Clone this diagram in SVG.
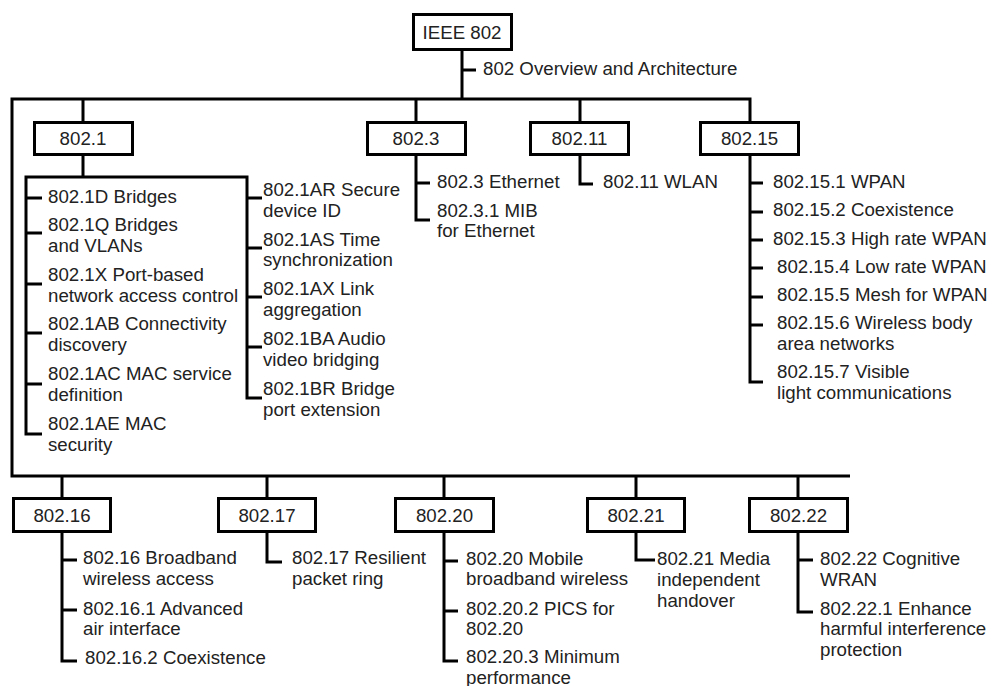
<svg xmlns="http://www.w3.org/2000/svg" width="992" height="686" viewBox="0 0 992 686">
<style>
.bx{fill:#fff;stroke:#000;stroke-width:3}
.c{fill:none;stroke:#000;stroke-width:3;stroke-linejoin:miter}
text{font-family:"Liberation Sans",Arial,sans-serif;font-size:18.7px;fill:#222}
.m{text-anchor:middle}
</style>
<rect width="992" height="686" fill="#fff"/>
<g id="connectors">
<path class="c" d="M462,51V99M462,70H476M750,121V99H12V476H850M83,99V121M416,99V121M580,99V121"/>
<path class="c" d="M83,156V177M42,434H26V177H247V398H262M26,198H42M26,233H42M26,284H42M26,333H42M26,384H42M247,198H262M247,248H262M247,297H262M247,347H262"/>
<path class="c" d="M416,156V220H430M416,183H430M580,156V184H593"/>
<path class="c" d="M750,156V382H763M750,183H763M750,212H763M750,240H763M750,268H763M750,297H763M750,325H763"/>
<path class="c" d="M62,476V497M267,476V497M444,476V497M636,476V497M798,476V497"/>
<path class="c" d="M62,533V661H77M62,560H77M62,610H77M267,533V562H282M444,533V661H458M444,561H458M444,611H458M636,533V560H655M798,533V612H813M798,560H813"/>
</g>
<g id="ieee802">
<rect class="bx" x="413.5" y="14.5" width="98" height="35"/>
<text class="m" x="462" y="38.5">IEEE 802</text>
<text x="483" y="74.5">802 Overview and Architecture</text>
</g>
<g id="n802_1">
<rect class="bx" x="34.5" y="122.5" width="98" height="32"/>
<text class="m" x="83" y="145">802.1</text>
<text x="48" y="203">802.1D Bridges</text>
<text x="48" y="231">802.1Q Bridges</text>
<text x="48" y="252">and VLANs</text>
<text x="48" y="281">802.1X Port-based</text>
<text x="48" y="302">network access control</text>
<text x="48" y="330">802.1AB Connectivity</text>
<text x="48" y="351">discovery</text>
<text x="48" y="380">802.1AC MAC service</text>
<text x="48" y="401">definition</text>
<text x="48" y="430">802.1AE MAC</text>
<text x="48" y="451">security</text>
<text x="263" y="196">802.1AR Secure</text>
<text x="263" y="217">device ID</text>
<text x="263" y="246">802.1AS Time</text>
<text x="263" y="266">synchronization</text>
<text x="263" y="295">802.1AX Link</text>
<text x="263" y="316">aggregation</text>
<text x="263" y="345">802.1BA Audio</text>
<text x="263" y="366">video bridging</text>
<text x="263" y="395">802.1BR Bridge</text>
<text x="263" y="416">port extension</text>
</g>
<g id="n802_3">
<rect class="bx" x="367.5" y="122.5" width="98" height="32"/>
<text class="m" x="416" y="145">802.3</text>
<text x="437" y="188">802.3 Ethernet</text>
<text x="437" y="217">802.3.1 MIB</text>
<text x="437" y="237">for Ethernet</text>
</g>
<g id="n802_11">
<rect class="bx" x="530.5" y="122.5" width="98" height="32"/>
<text class="m" x="579.5" y="145">802.11</text>
<text x="603" y="188">802.11 WLAN</text>
</g>
<g id="n802_15">
<rect class="bx" x="700.5" y="122.5" width="98" height="32"/>
<text class="m" x="749.5" y="145">802.15</text>
<text x="773" y="188">802.15.1 WPAN</text>
<text x="773" y="216">802.15.2 Coexistence</text>
<text x="773" y="245">802.15.3 High rate WPAN</text>
<text x="777" y="273">802.15.4 Low rate WPAN</text>
<text x="777" y="301">802.15.5 Mesh for WPAN</text>
<text x="777" y="329">802.15.6 Wireless body</text>
<text x="777" y="350">area networks</text>
<text x="777" y="378">802.15.7 Visible</text>
<text x="777" y="399">light communications</text>
</g>
<g id="n802_16">
<rect class="bx" x="13.5" y="498.5" width="97" height="33"/>
<text class="m" x="62" y="522">802.16</text>
<text x="83" y="564">802.16 Broadband</text>
<text x="83" y="585">wireless access</text>
<text x="83" y="615">802.16.1 Advanced</text>
<text x="83" y="635">air interface</text>
<text x="85" y="664">802.16.2 Coexistence</text>
</g>
<g id="n802_17">
<rect class="bx" x="218.5" y="498.5" width="97" height="33"/>
<text class="m" x="267" y="522">802.17</text>
<text x="292" y="564">802.17 Resilient</text>
<text x="292" y="585">packet ring</text>
</g>
<g id="n802_20">
<rect class="bx" x="395.5" y="498.5" width="98" height="33"/>
<text class="m" x="444.5" y="522">802.20</text>
<text x="466" y="565">802.20 Mobile</text>
<text x="466" y="585">broadband wireless</text>
<text x="466" y="615">802.20.2 PICS for</text>
<text x="466" y="635">802.20</text>
<text x="466" y="663">802.20.3 Minimum</text>
<text x="466" y="684">performance</text>
</g>
<g id="n802_21">
<rect class="bx" x="587.5" y="498.5" width="97" height="33"/>
<text class="m" x="636" y="522">802.21</text>
<text x="657" y="565">802.21 Media</text>
<text x="657" y="586">independent</text>
<text x="657" y="607">handover</text>
</g>
<g id="n802_22">
<rect class="bx" x="749.5" y="498.5" width="98" height="33"/>
<text class="m" x="798.5" y="522">802.22</text>
<text x="820" y="565">802.22 Cognitive</text>
<text x="820" y="586">WRAN</text>
<text x="820" y="615">802.22.1 Enhance</text>
<text x="820" y="635">harmful interference</text>
<text x="820" y="656">protection</text>
</g>
</svg>
